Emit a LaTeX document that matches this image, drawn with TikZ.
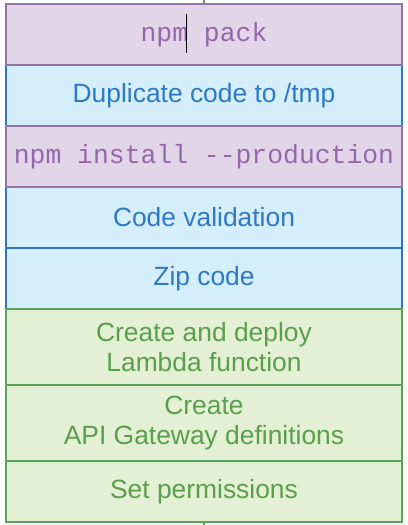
\documentclass[tikz,border=0pt]{standalone}
\usepackage{fontspec}
\setmainfont{Liberation Sans}
\setmonofont{Liberation Mono}
\definecolor{pfill}{HTML}{E1D5E7}
\definecolor{pline}{HTML}{9673A6}
\definecolor{ptext}{HTML}{9467AC}
\definecolor{bfill}{HTML}{D4EEFB}
\definecolor{bline}{HTML}{2D78C6}
\definecolor{btext}{HTML}{2F79C4}
\definecolor{gfill}{HTML}{E3F0D4}
\definecolor{gline}{HTML}{5BA15B}
\definecolor{gtext}{HTML}{5A9E4E}
\tikzset{
  stage/.style={draw, rectangle, line width=1.6bp, minimum width=396bp, inner sep=0pt, align=center,
    font=\fontsize{26.4bp}{30.4bp}\selectfont},
  purplebox/.style={stage, fill=pfill, draw=pline, text=ptext, font=\fontsize{26.4bp}{30.4bp}\selectfont\ttfamily},
  bluebox/.style={stage, fill=bfill, draw=bline, text=btext},
  greenbox/.style={stage, fill=gfill, draw=gline, text=gtext},
  stub/.style={draw=gline, line width=1.6bp}
}
\begin{document}
\begin{tikzpicture}[x=1bp,y=-1bp]
\useasboundingbox (0,0) rectangle (407,525);
% blue boxes
\node[bluebox, minimum height=61bp] (b2) at (204,95.5) {Duplicate code to /tmp};
\node[bluebox, minimum height=61bp] (b4) at (204,217.5) {Code validation};
\node[bluebox, minimum height=61bp] (b5) at (204,278.5) {Zip code};
% green boxes
\node[greenbox, minimum height=76bp] (b6) at (204,347) {Create and deploy\\Lambda function};
\node[greenbox, minimum height=76bp] (b7) at (204,423) {Create\\API Gateway definitions};
\node[greenbox, minimum height=61bp] (b8) at (204,491.5) {Set permissions};
% purple boxes
\node[purplebox, minimum height=61bp] (b1) at (204,34.5) {npm pack};
\node[purplebox, minimum height=61bp] (b3) at (204,156.5) {npm install --production};
% connector stubs
\coordinate (topend) at (204,0);
\coordinate (botend) at (204,525);
\draw[stub] (topend) -- (b1.north);
\draw[stub] (b8.south) -- (botend);
% text cursor
\draw[black, line width=0.8bp] (186,14) -- (186,53);
\end{tikzpicture}
\end{document}
